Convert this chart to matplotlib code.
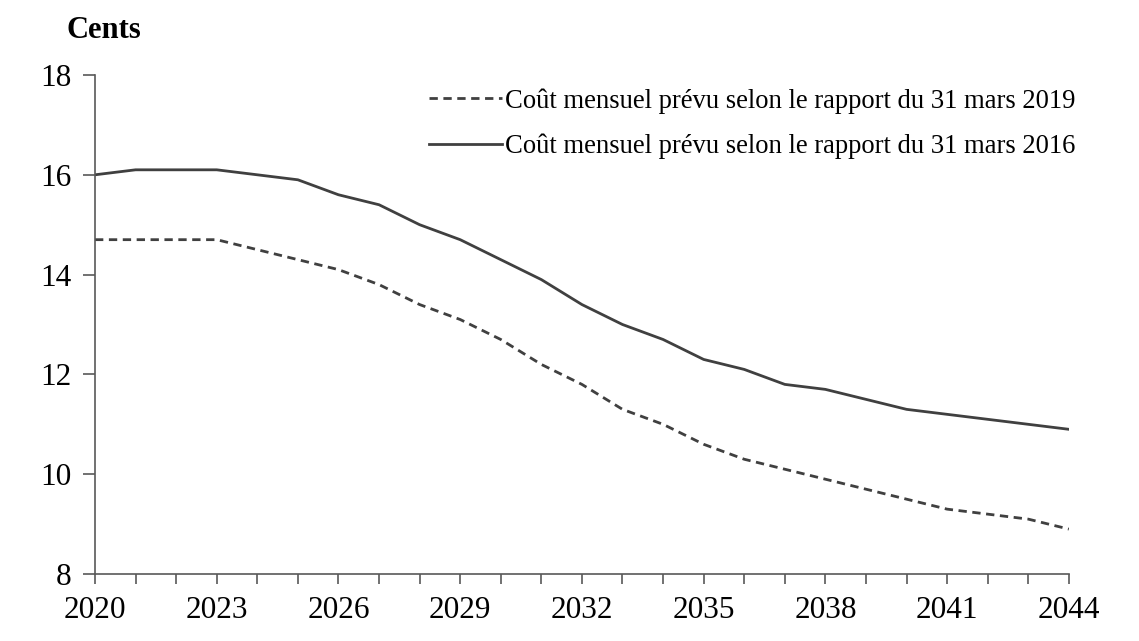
import matplotlib.pyplot as plt

plt.rcParams['font.family'] = ['Liberation Serif', 'DejaVu Serif']

years = list(range(2020, 2045))
cout_2019 = [14.7, 14.7, 14.7, 14.7, 14.5, 14.3, 14.1, 13.8, 13.4, 13.1, 12.7, 12.2, 11.8,
             11.3, 11.0, 10.6, 10.3, 10.1, 9.9, 9.7, 9.5, 9.3, 9.2, 9.1, 8.9]
cout_2016 = [16.0, 16.1, 16.1, 16.1, 16.0, 15.9, 15.6, 15.4, 15.0, 14.7, 14.3, 13.9, 13.4,
             13.0, 12.7, 12.3, 12.1, 11.8, 11.7, 11.5, 11.3, 11.2, 11.1, 11.0, 10.9]
labels = ["Coût mensuel prévu selon le rapport du 31 mars 2019",
          "Coût mensuel prévu selon le rapport du 31 mars 2016"]

fig = plt.figure(figsize=(11.39, 6.41), dpi=100)
ax = fig.add_axes([0.0834, 0.1045, 0.855, 0.7785])

couleur = '#404040'
ax.plot(years, cout_2019, color=couleur, lw=2, linestyle=(0, (3, 2)), label=labels[0])
ax.plot(years, cout_2016, color=couleur, lw=2, label=labels[1])

ax.set_xlim(2020, 2044)
ax.set_ylim(8, 18)
ax.set_xticks(years, minor=True)
ax.set_xticks(range(2020, 2045, 3))
ax.set_yticks(range(8, 19, 2))
ax.tick_params(axis='both', which='both', direction='out', colors='#595959',
               labelcolor='black', labelsize=22.5, width=1.2)
ax.tick_params(axis='x', which='both', length=7, pad=9)
ax.tick_params(axis='y', length=9, pad=8)

for s in ['top', 'right']:
    ax.spines[s].set_visible(False)
for s in ['left', 'bottom']:
    ax.spines[s].set_color('#595959')
    ax.spines[s].set_linewidth(1.2)

fig.text(0.058, 0.953, "Cents", fontsize=22, fontweight='bold', va='center')

ax.legend(loc='upper right', bbox_to_anchor=(1.02, 1.0), frameon=False, fontsize=19.2,
          handlelength=2.75, handletextpad=0.1, labelspacing=0.75, borderaxespad=0.1)

plt.savefig("out.png", dpi=100)
